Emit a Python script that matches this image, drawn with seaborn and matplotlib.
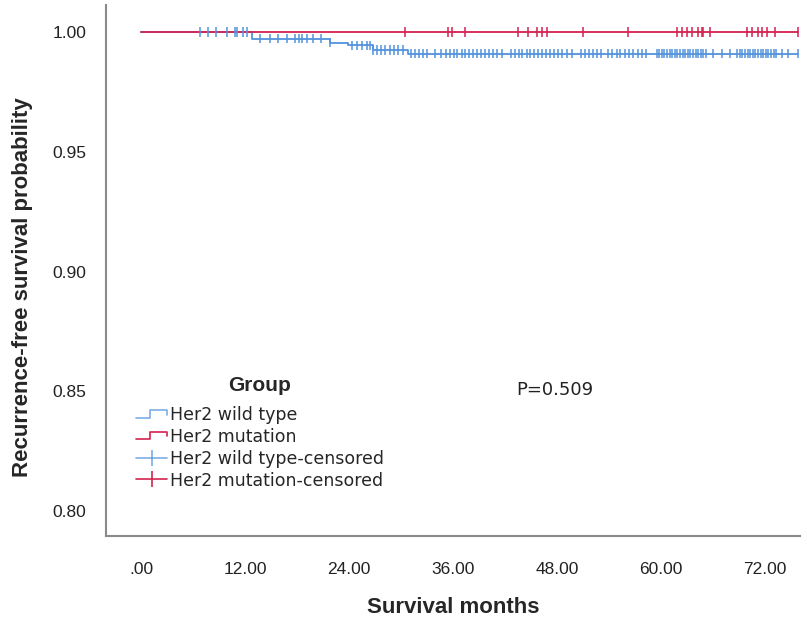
import numpy as np
import pandas as pd
import matplotlib
matplotlib.use("Agg")
import matplotlib.pyplot as plt
import seaborn as sns
from matplotlib.lines import Line2D
from matplotlib.legend_handler import HandlerBase

# ---- data ----
groups = ["Her2 wild type", "Her2 mutation"]
wt_times = [0, 12.8, 21.8, 23.9, 26.8, 30.8, 75.8]
wt_surv = [1.0, 0.9972, 0.9955, 0.9945, 0.9925, 0.9910, 0.9910]
mut_times = [0, 75.8]
mut_surv = [1.0, 1.0]

wt_censor = [6.8, 7.7, 8.7, 9.9, 10.8, 11.1, 11.8, 12.2,
             13.7, 14.9, 15.8, 16.8, 17.8, 18.2, 18.6, 19.2, 19.8, 20.8, 21.8,
             24.3, 24.9, 25.5, 26.1, 26.4, 26.8,
             27.2, 27.7, 28.2, 28.7, 29.2, 29.7, 30.2,
             31.2, 31.6, 32.1, 32.5, 33.0, 33.9, 34.6, 35.2, 35.6, 36.1, 36.5, 37.0,
             37.4, 37.9, 38.3, 38.8, 39.2, 39.7, 40.1, 40.6, 41.1, 41.6,
             42.7, 43.1, 43.6, 44.0, 44.5, 44.9, 45.4, 45.8, 46.3, 46.7, 47.2,
             47.6, 48.1, 48.6, 49.1, 49.7,
             50.8, 51.2, 51.7, 52.2, 52.6, 53.1, 53.9, 54.4, 54.9, 55.3, 55.8,
             56.3, 56.8, 57.3, 57.8, 58.3,
             59.5, 59.8, 60.1, 60.4, 60.7, 61.0, 61.3, 61.6, 61.9, 62.2, 62.5,
             62.8, 63.1, 63.4, 63.7, 64.0, 64.3, 64.6, 64.9, 65.2,
             66.0, 67.0, 68.0,
             68.8, 69.1, 69.4, 69.7, 70.0, 70.3, 70.6, 70.9, 71.2, 71.5, 71.8,
             72.1, 72.4, 72.7, 73.0, 73.3,
             74.0, 74.7, 75.8]
mut_censor = [30.5, 35.4, 35.9, 37.4, 43.5, 44.7, 45.7, 46.3, 46.8, 51.0, 56.2,
              61.8, 62.4, 63.0, 63.6, 64.3, 64.7, 64.9, 65.7,
              69.9, 70.5, 71.2, 71.7, 72.2, 73.2, 75.8]

x_ticks = [0, 12, 24, 36, 48, 60, 72]
x_ticklabels = [".00", "12.00", "24.00", "36.00", "48.00", "60.00", "72.00"]
y_ticks = [0.80, 0.85, 0.90, 0.95, 1.00]
y_ticklabels = ["0.80", "0.85", "0.90", "0.95", "1.00"]
p_text = "P=0.509"

BLUE = "#5393dc"
RED = "#d3214f"

def surv_at(times, surv, t):
    idx = np.searchsorted(np.array(times), np.array(t), side="right") - 1
    return np.array(surv)[idx]

curves = pd.concat([
    pd.DataFrame({"time": wt_times, "surv": wt_surv, "group": groups[0]}),
    pd.DataFrame({"time": mut_times, "surv": mut_surv, "group": groups[1]}),
])
cens = pd.concat([
    pd.DataFrame({"time": wt_censor, "surv": surv_at(wt_times, wt_surv, wt_censor), "group": groups[0]}),
    pd.DataFrame({"time": mut_censor, "surv": surv_at(mut_times, mut_surv, mut_censor), "group": groups[1]}),
])

sns.set_style("white")
plt.rcParams["font.family"] = ["DejaVu Sans"]

fig = plt.figure(figsize=(8.07, 6.19), dpi=100)
ax = fig.add_axes([106 / 807, 1 - 536 / 619, (800 - 106) / 807, (536 - 5) / 619])

palette = {groups[0]: BLUE, groups[1]: RED}
sns.lineplot(data=curves, x="time", y="surv", hue="group", palette=palette,
             drawstyle="steps-post", estimator=None, sort=True, linewidth=1.3,
             legend=False, ax=ax)
sns.scatterplot(data=cens, x="time", y="surv", hue="group", palette=palette,
                marker="|", s=45, linewidth=1.1, legend=False, ax=ax, zorder=3)

ax.set_xlim((106 - 141) / 8.667, (800 - 141) / 8.667)
ax.set_ylim(0.80 - 25 / 2395, 1.00 + 27 / 2395)

lib = ["Liberation Sans", "DejaVu Sans"]
ax.set_xticks(x_ticks)
ax.set_xticklabels(x_ticklabels, fontsize=12.5, family=lib, color="#222222")
ax.set_yticks(y_ticks)
ax.set_yticklabels(y_ticklabels, fontsize=12.5, family=lib, color="#222222")
ax.tick_params(axis="x", direction="out", length=7, width=1, color="#999999", pad=12)
ax.tick_params(axis="y", direction="out", length=8, width=1, color="#999999", pad=6)

for s in ["top", "right"]:
    ax.spines[s].set_visible(False)
for s in ["left", "bottom"]:
    ax.spines[s].set_color("#8a8a8a")
    ax.spines[s].set_linewidth(1.5)

ax.set_xlabel("Survival months", fontsize=16, fontweight="bold",
              family=lib, labelpad=14)
ax.set_ylabel("Recurrence-free survival probability", fontsize=16, fontweight="bold",
              family=lib)
ax.yaxis.set_label_coords((33 - 106) / 694, 1 - (287 - 5) / 531)

ax.text(47.8, 0.8505, p_text, fontsize=13, ha="center", va="center", color="#222222")


class StepHandler(HandlerBase):
    def create_artists(self, legend, orig_handle, xdescent, ydescent, width, height,
                       fontsize, trans):
        x0 = -xdescent
        yl = -ydescent + 0.2 * height
        yh = -ydescent + 0.85 * height
        xs = [x0, x0 + 0.45 * width, x0 + 0.45 * width, x0 + width, x0 + width]
        ys = [yl, yl, yh, yh, yl + 0.25 * height]
        ln = Line2D(xs, ys, color=orig_handle.get_color(), linewidth=1.2,
                    alpha=orig_handle.get_alpha(), transform=trans)
        return [ln]


h_wt = Line2D([], [], color=BLUE, alpha=0.75)
h_mut = Line2D([], [], color=RED, alpha=1.0)
h_wt_c = Line2D([], [], color=BLUE, alpha=0.75, marker="|", markersize=12, markeredgewidth=1.2, linewidth=1.2)
h_mut_c = Line2D([], [], color=RED, marker="|", markersize=12, markeredgewidth=1.2, linewidth=1.2)

leg = fig.legend([h_wt, h_mut, h_wt_c, h_mut_c],
                 ["Her2 wild type", "Her2 mutation", "Her2 wild type-censored", "Her2 mutation-censored"],
                 handler_map={h_wt: StepHandler(), h_mut: StepHandler()},
                 loc="upper left", bbox_to_anchor=(129 / 807, 1 - 369 / 619),
                 frameon=False, fontsize=12.5, title="Group", handlelength=1.8,
                 handletextpad=0.15, labelspacing=0.22, borderaxespad=0)
leg.get_title().set_fontweight("bold")
leg.get_title().set_fontsize(15)
leg.get_title().set_family(lib)
leg._legend_box.sep = 8

fig.savefig("out.png", dpi=100)
